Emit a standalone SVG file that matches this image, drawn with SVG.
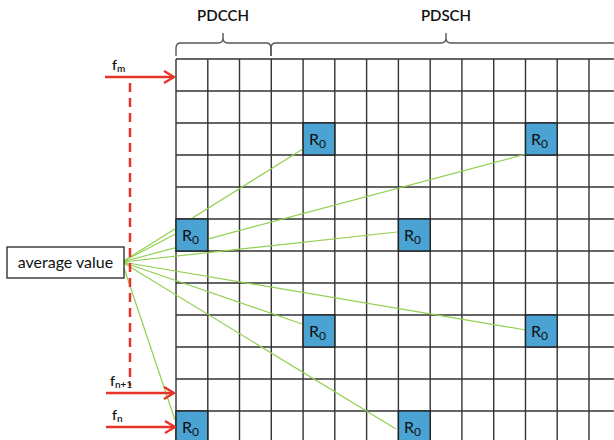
<svg xmlns="http://www.w3.org/2000/svg" width="614" height="440" viewBox="0 0 614 440">
<defs>
<style>
.grid{stroke:#333;stroke-width:1.4;fill:none}
.r0 rect{fill:#4BA3D3;stroke:#222;stroke-width:1.4}
.r0 text,.lbl{font-family:Lato,"Open Sans","Liberation Sans",sans-serif;fill:#111}
.r0 text{font-size:16px}
.conn line{stroke:#92D050;stroke-width:1.2}
.red{stroke:#E8332A;stroke-width:2.5;fill:none}
.brace{stroke:#555;stroke-width:1.4;fill:none}
</style>
<marker id="arr" viewBox="0 0 12 14" refX="11" refY="7" markerWidth="12" markerHeight="14" orient="auto" markerUnits="userSpaceOnUse">
<path d="M1,1 L11,7 L1,13" fill="none" stroke="#E8332A" stroke-width="2.4"/>
</marker>
</defs>
<rect width="614" height="440" fill="#fff"/>
<g id="grid" class="grid">
<path d="M176,59V440M207.8,59V440M239.5,59V440M271.3,59V440M303.1,59V440M334.8,59V440M366.6,59V440M398.4,59V440M430.2,59V440M461.9,59V440M493.7,59V440M525.5,59V440M557.2,59V440M589,59V440"/>
<path d="M176,59H614M176,91H614M176,123H614M176,155H614M176,187H614M176,219H614M176,251H614M176,283H614M176,315H614M176,347H614M176,379H614M176,411H614"/>
</g>
<g id="braces" class="brace">
<path d="M176,56V48Q176,43 181,43H218Q223,43 223,38V33V38Q223,43 228,43H266Q271,43 271,48V56"/>
<path d="M271,56V48Q271,43 276,43H441Q446,43 446,38V33V38Q446,43 451,43H614"/>
</g>
<text class="lbl" x="223" y="21" font-size="15" font-weight="600" text-anchor="middle">PDCCH</text>
<text class="lbl" x="446" y="21" font-size="15" font-weight="600" text-anchor="middle">PDSCH</text>
<g id="connectors" class="conn">
<line x1="122" y1="262" x2="306" y2="147"/>
<line x1="122" y1="262" x2="526" y2="154"/>
<line x1="122" y1="262" x2="185" y2="229"/>
<line x1="122" y1="262" x2="397" y2="232"/>
<line x1="122" y1="262" x2="305" y2="325"/>
<line x1="122" y1="262" x2="526" y2="330"/>
<line x1="122" y1="262" x2="175" y2="420"/>
<line x1="122" y1="262" x2="396" y2="429"/>
</g>
<g id="r0-1" class="r0"><rect x="303.1" y="123" width="31.7" height="32"/><text x="309" y="145">R<tspan font-size="12" dy="3">0</tspan></text></g>
<g id="r0-2" class="r0"><rect x="525.5" y="123" width="31.7" height="32"/><text x="531" y="145">R<tspan font-size="12" dy="3">0</tspan></text></g>
<g id="r0-3" class="r0"><rect x="176" y="219" width="31.8" height="32"/><text x="182" y="241">R<tspan font-size="12" dy="3">0</tspan></text></g>
<g id="r0-4" class="r0"><rect x="398.4" y="219" width="31.8" height="32"/><text x="404" y="241">R<tspan font-size="12" dy="3">0</tspan></text></g>
<g id="r0-5" class="r0"><rect x="303.1" y="315" width="31.7" height="32"/><text x="309" y="337">R<tspan font-size="12" dy="3">0</tspan></text></g>
<g id="r0-6" class="r0"><rect x="525.5" y="315" width="31.7" height="32"/><text x="531" y="337">R<tspan font-size="12" dy="3">0</tspan></text></g>
<g id="r0-7" class="r0"><rect x="176" y="411" width="31.8" height="32"/><text x="182" y="433">R<tspan font-size="12" dy="3">0</tspan></text></g>
<g id="r0-8" class="r0"><rect x="398.4" y="411" width="31.8" height="32"/><text x="404" y="433">R<tspan font-size="12" dy="3">0</tspan></text></g>
<g id="avg">
<rect x="7" y="247" width="117" height="31" fill="#fff" stroke="#333" stroke-width="1.4"/>
<text class="lbl" x="65.5" y="268" font-size="16" text-anchor="middle">average value</text>
</g>
<g id="freq">
<line class="red" x1="130" y1="83" x2="130" y2="386" stroke-dasharray="9,6"/>
<line class="red" x1="105" y1="77" x2="174" y2="77" marker-end="url(#arr)"/>
<line class="red" x1="106" y1="393" x2="174" y2="393" marker-end="url(#arr)"/>
<line class="red" x1="106" y1="427" x2="175" y2="427" marker-end="url(#arr)"/>
<text class="lbl" x="112" y="70" font-size="14" font-weight="600">f<tspan font-size="10" dy="2">m</tspan></text>
<text class="lbl" x="110" y="386" font-size="14" font-weight="600">f<tspan font-size="10" dy="2">n+1</tspan></text>
<text class="lbl" x="112" y="420" font-size="14" font-weight="600">f<tspan font-size="10" dy="2">n</tspan></text>
</g>
</svg>
